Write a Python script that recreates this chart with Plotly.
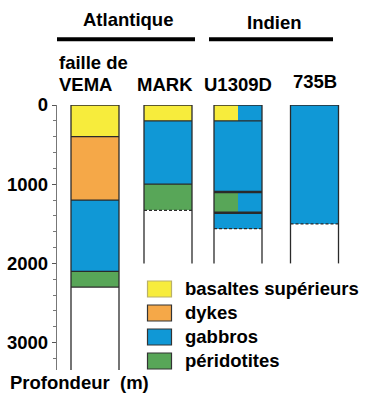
import plotly.graph_objects as go

# ---------------- data ----------------
columns = ["VEMA", "MARK", "U1309D", "735B"]
column_labels = [["faille de", "VEMA"], ["MARK"], ["U1309D"], ["735B"]]
column_extent = [3346, 2000, 2000, 2000]          # depth reached by the column outline (m)

lithologies = ["basaltes supérieurs", "dykes", "gabbros", "péridotites"]

# segments : column, lithology, top (m), bottom (m), part of column
seg_column = ["VEMA", "VEMA", "VEMA", "VEMA",
              "MARK", "MARK", "MARK",
              "U1309D", "U1309D", "U1309D", "U1309D", "U1309D", "U1309D",
              "735B"]
seg_litho = ["basaltes supérieurs", "dykes", "gabbros", "péridotites",
             "basaltes supérieurs", "gabbros", "péridotites",
             "basaltes supérieurs", "gabbros", "gabbros", "péridotites", "gabbros", "gabbros",
             "gabbros"]
seg_top = [0, 400, 1200, 2100,
           0, 200, 1000,
           0, 0, 200, 1100, 1100, 1360,
           0]
seg_bottom = [400, 1200, 2100, 2300,
              200, 1000, 1330,
              200, 200, 1100, 1360, 1360, 1560,
              1500]
seg_part = ["full", "full", "full", "full",
            "full", "full", "full",
            "left", "right", "full", "left", "right", "full",
            "full"]

y_ticks = [0, 1000, 2000, 3000]
ocean_groups = ["Atlantique", "Indien"]

# ---------------- style / layout ----------------
colors = {"basaltes supérieurs": "#F7EC3C", "dykes": "#F5A848",
          "gabbros": "#1098D6", "péridotites": "#58A658"}
col_pos = {"VEMA": 38, "MARK": 111, "U1309D": 181, "735B": 257.5}
col_w = 48
dashed_bottom = {"MARK", "U1309D", "735B"}
thick_bounds = {("U1309D", 1100), ("U1309D", 1360)}
FONT = dict(family="Liberation Sans, Arial, sans-serif", size=18.5, color="black", weight="bold")
EDGE = "#2a2a2a"

L, R, T, B, W, H = 57, 23, 105, 30, 380, 400
def px_x(p):
    return (p - L) / (W - L - R)
def px_y(p):
    return (H - B - p) / (H - T - B)

fig = go.Figure()

for lit in lithologies:
    xs, bases, hs, ws = [], [], [], []
    for c, l, t, b, part in zip(seg_column, seg_litho, seg_top, seg_bottom, seg_part):
        if l != lit:
            continue
        cx = col_pos[c]
        if part == "full":
            xs.append(cx); ws.append(col_w)
        elif part == "left":
            xs.append(cx - col_w / 4); ws.append(col_w / 2)
        else:
            xs.append(cx + col_w / 4); ws.append(col_w / 2)
        bases.append(t); hs.append(b - t)
    fig.add_trace(go.Bar(x=xs, y=hs, base=bases, width=ws, name=lit,
                         marker=dict(color=colors[lit], line=dict(width=0)),
                         showlegend=False, hoverinfo="skip"))

shapes = []
# column outlines
for c, ext in zip(columns, column_extent):
    cx = col_pos[c]
    for xe in (cx - col_w / 2, cx + col_w / 2):
        shapes.append(dict(type="line", xref="x", yref="y", x0=xe, x1=xe, y0=0, y1=ext,
                           line=dict(color=EDGE, width=1.3)))
    shapes.append(dict(type="line", xref="x", yref="y", x0=cx - col_w / 2, x1=cx + col_w / 2,
                       y0=0, y1=0, line=dict(color=EDGE, width=1.5)))
    depths = sorted({d for cc, t, b in zip(seg_column, seg_top, seg_bottom) if cc == c for d in (t, b)} - {0})
    for d in depths:
        dash = "3px,2px" if (d == depths[-1] and c in dashed_bottom) else "solid"
        wdt = 2.5 if (c, d) in thick_bounds else 1.3
        shapes.append(dict(type="line", xref="x", yref="y", x0=cx - col_w / 2, x1=cx + col_w / 2,
                           y0=d, y1=d, line=dict(color=EDGE, width=wdt, dash=dash)))

# ocean group bars
group_span = {"Atlantique": (57, 195), "Indien": (209, 333)}
group_text = {"Atlantique": (128, 19.5), "Indien": (274, 22.8)}
annotations = []
for g in ocean_groups:
    a, b = group_span[g]
    shapes.append(dict(type="line", xref="paper", yref="paper", x0=px_x(a), x1=px_x(b),
                       y0=px_y(39.3), y1=px_y(39.3), line=dict(color="black", width=4)))
    tx, ty = group_text[g]
    annotations.append(dict(text=g, xref="paper", yref="paper", x=px_x(tx), y=px_y(ty),
                            xanchor="center", yanchor="middle", showarrow=False, font=FONT))

# column labels
label_pos = {"VEMA": [(93.5, 62.8), (85.5, 84.2)], "MARK": [(165, 84.2)],
             "U1309D": [(238, 84.2)], "735B": [(315, 81.8)]}
for c, lines in zip(columns, column_labels):
    for txt, (lx, ly) in zip(lines, label_pos[c]):
        annotations.append(dict(text=txt, xref="paper", yref="paper", x=px_x(lx), y=px_y(ly),
                                xanchor="center", yanchor="middle", showarrow=False, font=FONT))

annotations.append(dict(text="Profondeur\u00a0 (m)", xref="paper", yref="paper",
                        x=px_x(79.5), y=px_y(382.8), xanchor="center", yanchor="middle",
                        showarrow=False, font=FONT))

# manual legend
for i, lit in enumerate(lithologies):
    top = 281 + 24 * i
    shapes.append(dict(type="rect", xref="paper", yref="paper", x0=px_x(147.5), x1=px_x(171.5),
                       y0=px_y(top), y1=px_y(top + 16), fillcolor=colors[lit],
                       line=dict(color="#333333" if lit != "basaltes supérieurs" else "#b9b06a", width=1.2)))
    annotations.append(dict(text=lit, xref="paper", yref="paper", x=px_x(182.5), y=px_y(top + 7.5),
                            xanchor="left", yanchor="middle", showarrow=False, font=FONT))

fig.update_layout(
    width=W, height=H, margin=dict(l=L, r=R, t=T, b=B, autoexpand=False),
    paper_bgcolor="white", plot_bgcolor="white",
    barmode="overlay", bargap=0,
    shapes=shapes, annotations=annotations,
    xaxis=dict(range=[0, W - L - R], visible=False, fixedrange=True, automargin=False),
    yaxis=dict(range=[3346, 0], tickvals=y_ticks, ticktext=[str(v) for v in y_ticks],
               tickfont=FONT, ticks="outside", ticklen=4, tickcolor="#555555", tickwidth=1.2,
               minor=dict(dtick=200, ticks="outside", ticklen=3, tickcolor="#777777"),
               showline=True, linecolor="#777777", linewidth=1.3, automargin=False,
               showgrid=False, zeroline=False, fixedrange=True),
    showlegend=False,
)

fig.write_html("out.html")
